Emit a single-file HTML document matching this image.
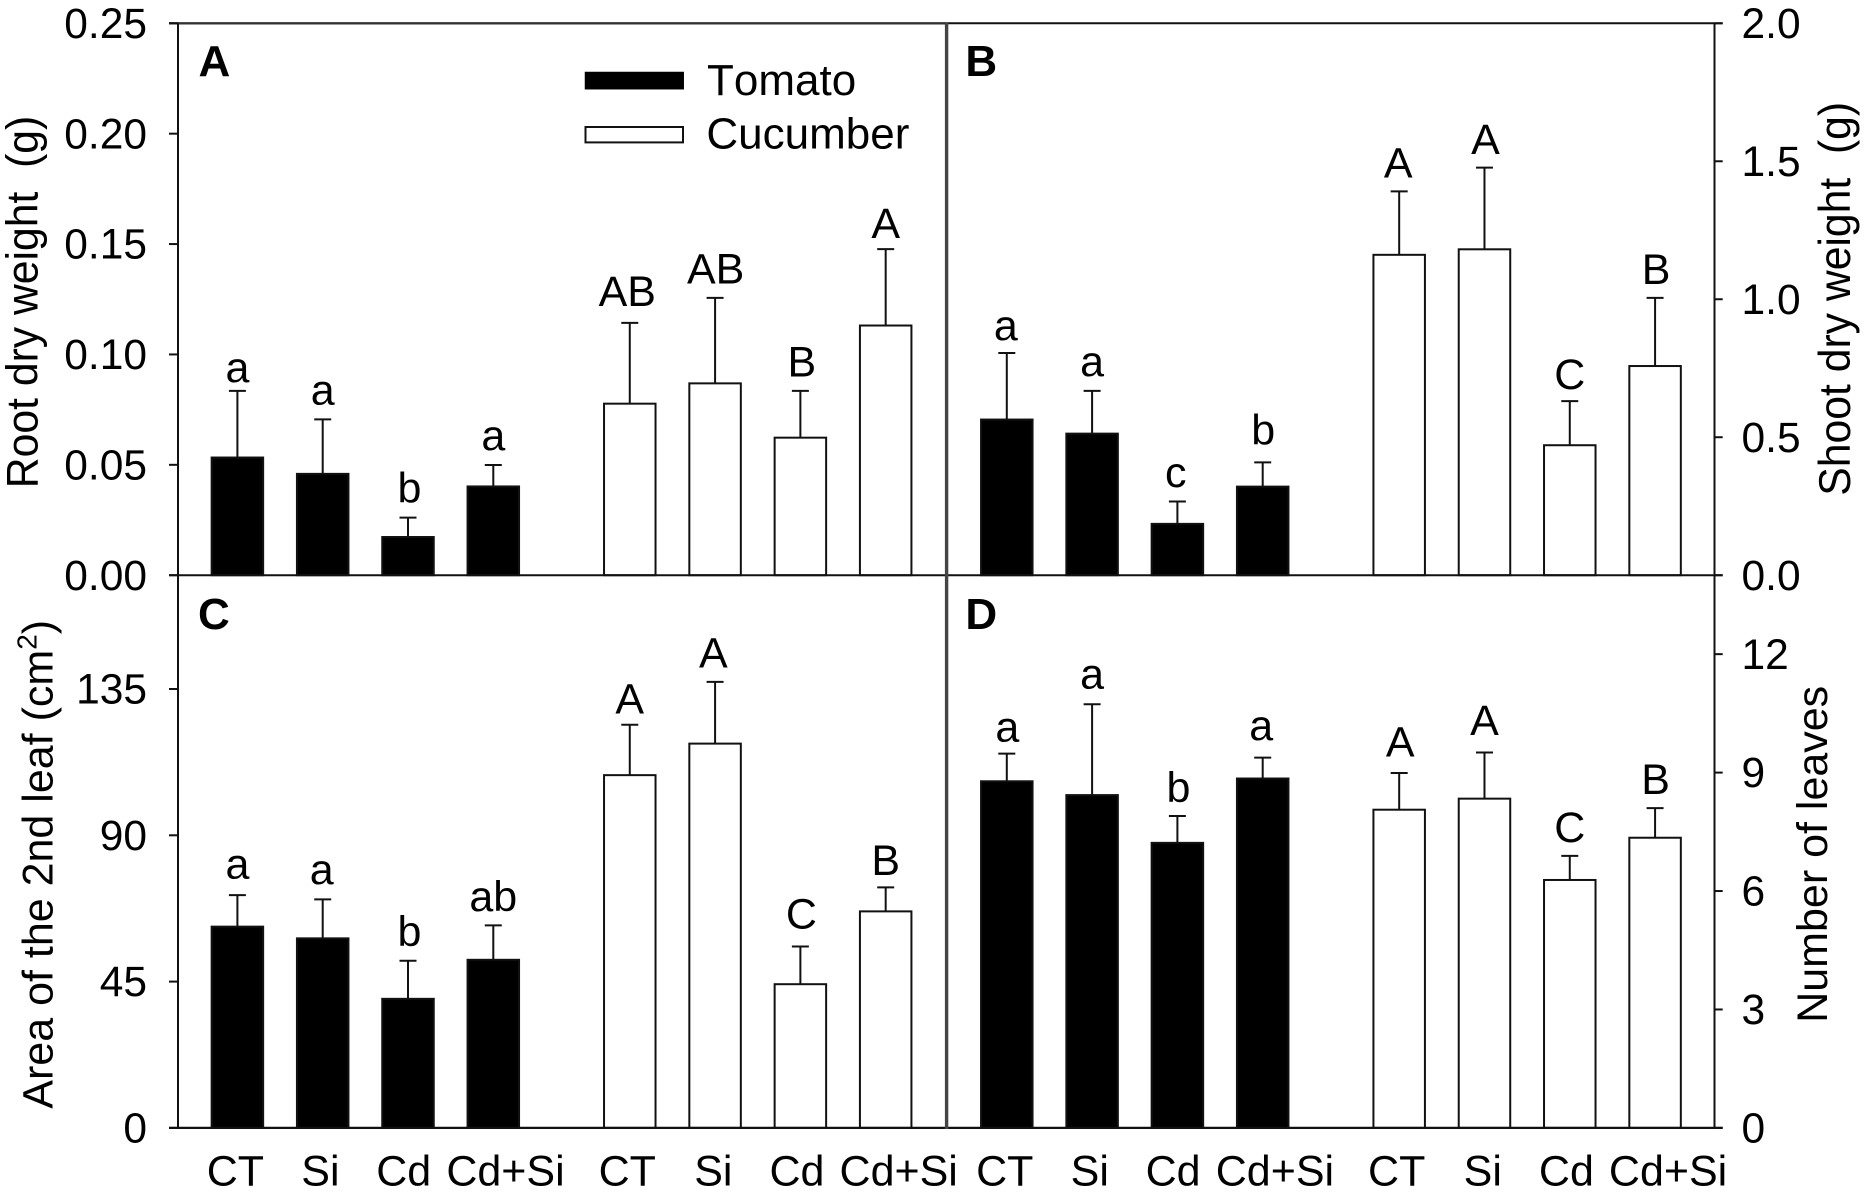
<!DOCTYPE html>
<html lang="en">
<head>
<meta charset="utf-8">
<title>Dry weight, leaf area and leaf number of tomato and cucumber</title>
<style>
html,body{margin:0;padding:0;background:#fff;}
svg{display:block;}
text{font-family:"Liberation Sans",Arial,sans-serif;fill:#000;white-space:pre;font-kerning:none;}
</style>
</head>
<body>
<svg id="chart" xmlns="http://www.w3.org/2000/svg" width="1866" height="1194" viewBox="0 0 1866 1194"></svg>
<script>
// ---- data ----
const categories = ['CT', 'Si', 'Cd', 'Cd+Si', 'CT', 'Si', 'Cd', 'Cd+Si'];
const seriesNames = ['Tomato', 'Cucumber'];

const rootWeightMeans = [0.0533, 0.0459, 0.0173, 0.0402, 0.0777, 0.0869, 0.0623, 0.1131];
const rootWeightErrors = [0.0302, 0.0247, 0.0088, 0.0097, 0.0366, 0.0387, 0.0212, 0.0346];
const rootWeightLetters = ['a', 'a', 'b', 'a', 'AB', 'AB', 'B', 'A'];
const rootWeightTicks = ['0.00', '0.05', '0.10', '0.15', '0.20', '0.25'];

const shootWeightMeans = [0.564, 0.513, 0.186, 0.321, 1.161, 1.181, 0.471, 0.758];
const shootWeightErrors = [0.241, 0.155, 0.081, 0.088, 0.230, 0.296, 0.160, 0.247];
const shootWeightLetters = ['a', 'a', 'c', 'b', 'A', 'A', 'C', 'B'];
const shootWeightTicks = ['0.0', '0.5', '1.0', '1.5', '2.0'];

const leafAreaMeans = [61.9, 58.3, 39.7, 51.7, 108.5, 118.2, 44.2, 66.6];
const leafAreaErrors = [9.7, 12.0, 11.7, 10.6, 15.5, 19.0, 11.6, 7.4];
const leafAreaLetters = ['a', 'a', 'b', 'ab', 'A', 'A', 'C', 'B'];
const leafAreaTicks = ['0', '45', '90', '135'];

const leafCountMeans = [8.78, 8.43, 7.22, 8.85, 8.06, 8.34, 6.28, 7.35];
const leafCountErrors = [0.70, 2.30, 0.68, 0.53, 0.93, 1.17, 0.61, 0.75];
const leafCountLetters = ['a', 'a', 'b', 'a', 'A', 'A', 'C', 'B'];
const leafCountTicks = ['0', '3', '6', '9', '12'];

// ---- layout ----
const svg = document.getElementById('chart');
const NS = 'http://www.w3.org/2000/svg';
const INK = '#111';
const LEFT_AXIS = 178, RIGHT_AXIS = 1714.5, DIVIDER = 946.6;
const TOP = 23.3, MIDDLE = 575.2, BOTTOM = 1127.9;
const STEP = 85.3, GROUP_GAP = 0.6, BAR_W = 51.5, CAP_W = 17;
const FONT = 43;
const TICK_FONT = 42.5;

function make(tag, attrs, parent) {
  const node = document.createElementNS(NS, tag);
  for (const k in attrs) node.setAttribute(k, attrs[k]);
  (parent || svg).appendChild(node);
  return node;
}
function line(x1, y1, x2, y2, w, color, parent) {
  return make('line', {x1: x1, y1: y1, x2: x2, y2: y2, stroke: color || INK, 'stroke-width': w || 2}, parent);
}
function label(str, x, y, anchor, size, parent, weight) {
  const t = make('text', {x: x, y: y, 'text-anchor': anchor || 'middle', 'font-size': size || FONT}, parent);
  if (weight) t.setAttribute('font-weight', weight);
  t.textContent = str;
  return t;
}
function xScale(x0, i) { return x0 + STEP * (i < 4 ? i : i + GROUP_GAP); }
function yScale(panel, v) { return panel.base - (v / panel.max) * (panel.base - panel.top); }

// vertical gap (px) between whisker cap and letter baseline, and small horizontal nudge of each letter
const letterGapsByPanel = {
  A: [9, 15, 15, 15, 17, 14.5, 14.5, 11],
  B: [13, 15, 14.5, 18, 14, 13.4, 12, 14],
  C: [16.5, 15.3, 14.6, 14.5, 11.5, 14.5, 18, 12.3],
  D: [12, 16, 13.8, 17.6, 16.4, 17.6, 13.8, 14.2]
};
const letterNudgesByPanel = {
  A: [0, 0, 1.4, 0, -2.5, 0.6, 1.5, 0],
  B: [-1, 0, -1.6, 0.5, -1, 1, 0, 1],
  C: [0, -1, 1.4, 0, 0, -1.7, 1, 0],
  D: [0.5, 0, 1, -1.5, 1, 0, 0, 0.5]
};
const xLabelNudges = [-2, -2.3, -4.3, 12.2, -2.5, -1.7, -3.4, 13];

const panels = [
  {id: 'A', x0: 237.4, top: TOP, base: MIDDLE, max: 0.25, means: rootWeightMeans, errors: rootWeightErrors, letters: rootWeightLetters, name: 'root-dry-weight', tagX: 198.5, tagY: 75.8},
  {id: 'B', x0: 1006.8, top: TOP, base: MIDDLE, max: 2.0, means: shootWeightMeans, errors: shootWeightErrors, letters: shootWeightLetters, name: 'shoot-dry-weight', tagX: 965.4, tagY: 75.8},
  {id: 'C', x0: 237.4, top: MIDDLE, base: BOTTOM, max: 170, means: leafAreaMeans, errors: leafAreaErrors, letters: leafAreaLetters, name: 'leaf-area', tagX: 198, tagY: 629.2},
  {id: 'D', x0: 1006.8, top: MIDDLE, base: BOTTOM, max: 14, means: leafCountMeans, errors: leafCountErrors, letters: leafCountLetters, name: 'leaf-count', tagX: 965.4, tagY: 629.2}
];

// ---- bars, whiskers, significance letters ----
panels.forEach(function (p) {
  const group = make('g', {});
  
  

  p.means.forEach(function (mean, i) {
    const cx = xScale(p.x0, i);
    const yTop = yScale(p, mean);
    const yErr = yScale(p, mean + p.errors[i]);
    const tomato = i < 4;

    const stem = line(cx, yErr, cx, yTop, 2, INK, group);
    
    

    const cap = line(cx - CAP_W / 2, yErr, cx + CAP_W / 2, yErr, 2, INK, group);
    
    

    const bar = make('rect', {
      x: cx - BAR_W / 2, y: yTop, width: BAR_W, height: p.base - yTop,
      fill: tomato ? '#000' : '#fff', stroke: INK, 'stroke-width': 2
    }, group);
    
    

    const letter = label(p.letters[i], cx + letterNudgesByPanel[p.id][i], yErr - letterGapsByPanel[p.id][i], 'middle', FONT, group);
    
    
  });

  const tag = label(p.id, p.tagX, p.tagY, 'start', 44, group, 'bold');
  
  
});

// ---- frame ----
const frameLines = [
  [169, TOP, DIVIDER, TOP, 2.4, '#333'],
  [DIVIDER, TOP, 1722.7, TOP, 2, INK],
  [169, MIDDLE, 1722.7, MIDDLE, 2, INK],
  [169, BOTTOM, 1722.7, BOTTOM, 2.2, INK],
  [LEFT_AXIS, TOP, LEFT_AXIS, BOTTOM, 2, INK],
  [RIGHT_AXIS, TOP, RIGHT_AXIS, BOTTOM, 2, INK],
  [DIVIDER, TOP - 1, DIVIDER, BOTTOM + 1, 3.4, '#444']
];
frameLines.forEach(function (f) {
  const l = line(f[0], f[1], f[2], f[3], f[4], f[5]);
  
  
});

// ---- y axes ----
function drawTicks(panel, ticks, side) {
  ticks.forEach(function (t) {
    const v = parseFloat(t);
    const y = yScale(panel, v);
    const tick = side === 'left'
      ? line(169, y, LEFT_AXIS, y, 2)
      : line(RIGHT_AXIS, y, 1722.7, y, 2);
    
    
    const txt = side === 'left'
      ? label(t, 147, y + 14.6, 'end', TICK_FONT)
      : label(t, 1741.5, y + 14.6, 'start', TICK_FONT);
    
    
  });
}
drawTicks(panels[0], rootWeightTicks, 'left');
drawTicks(panels[1], shootWeightTicks, 'right');
drawTicks(panels[2], leafAreaTicks, 'left');
drawTicks(panels[3], leafCountTicks, 'right');

function rotated(str, x, y, size, stretch) {
  const t = make('text', {
    transform: 'translate(' + x + ',' + y + ') rotate(-90) scale(1,' + stretch + ')',
    'text-anchor': 'start',
    'font-size': size
  });
  t.textContent = str;
  return t;
}
const rootTitle = rotated('Root dry weight  (g)', 37.6, 488.2, 42.7, 1.05);



const shootTitle = rotated('Shoot dry weight  (g)', 1850, 495.7, 42.7, 1.05);



const areaTitle = rotated('Area of the 2nd leaf (cm', 52.6, 1108.7, 43, 1);


const areaSup = make('tspan', {dy: -16, 'font-size': 28}, areaTitle);
areaSup.textContent = '2';
const areaClose = make('tspan', {dy: 16}, areaTitle);
areaClose.textContent = ')';

const leavesTitle = rotated('Number of leaves', 1826.8, 1022.8, 43, 1);



// ---- x labels ----
[237.4, 1006.8].forEach(function (x0) {
  categories.forEach(function (c, i) {
    const t = label(c, xScale(x0, i) + xLabelNudges[i], 1185.3, 'middle', FONT);
    
    
  });
});

// ---- legend ----
const legendTomatoSwatch = make('rect', {x: 585, y: 72, width: 98.7, height: 17.2, fill: '#000', stroke: '#000', 'stroke-width': 0.5});



const legendCucumberSwatch = make('rect', {x: 585.5, y: 127, width: 97.5, height: 15.4, fill: '#fff', stroke: INK, 'stroke-width': 2});



const legendTomatoText = label(seriesNames[0], 707, 94.9, 'start', 44);



const legendCucumberText = label(seriesNames[1], 706.4, 148.5, 'start', 44);


</script>
</body>
</html>
